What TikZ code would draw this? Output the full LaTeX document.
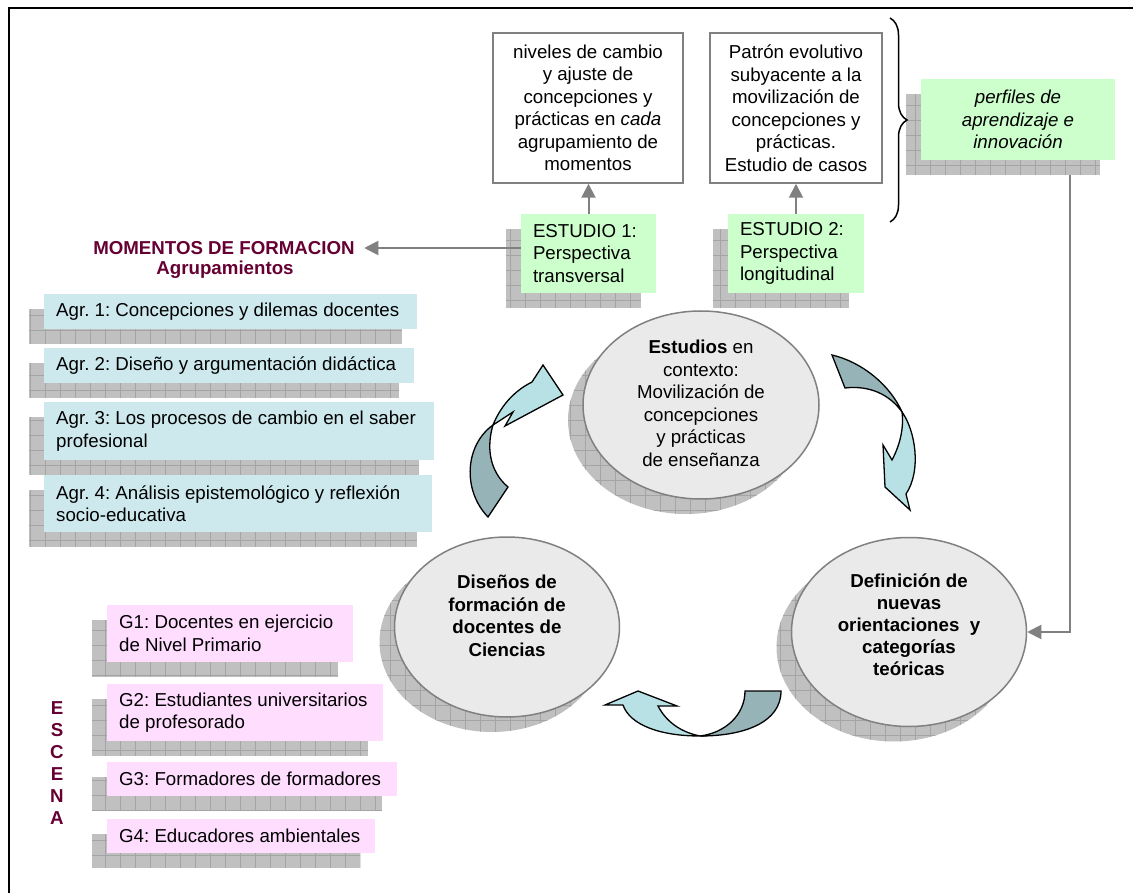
\documentclass[tikz,border=0pt]{standalone}
\usepackage{fontspec}
\setmainfont{Liberation Sans}
\usetikzlibrary{arrows.meta, calc, backgrounds, shapes.geometric, decorations.pathreplacing}

\definecolor{boxgray}{HTML}{808080}
\definecolor{shadegray}{HTML}{C0C0C0}
\definecolor{gridgray}{HTML}{A4A4A4}
\definecolor{mintgreen}{HTML}{CCFFCC}
\definecolor{paleblue}{HTML}{CDE9EE}
\definecolor{palepink}{HTML}{FFDDFF}
\definecolor{maroon}{HTML}{660033}
\definecolor{ovalfill}{HTML}{EAEAEA}
\definecolor{tealdark}{HTML}{96B4B7}
\definecolor{teallight}{HTML}{B8E1E5}

\begin{document}
\frenchspacing
\begin{tikzpicture}[
    x=1pt, y=-1pt,
    font=\fontsize{18.7}{22.5}\selectfont,
    grayline/.style={draw=boxgray, line width=2pt, -{Triangle[length=14pt, width=14pt]}},
    textbox/.style={draw=boxgray, line width=1.5pt, align=center, minimum height=150pt},
    study/.style={fill=mintgreen, align=flush left, inner xsep=12pt, minimum height=79pt},
    agr/.style={anchor=west, fill=paleblue, align=flush left, inner xsep=12pt},
    grp/.style={anchor=west, fill=palepink, align=flush left, inner xsep=12pt},
    ovalnode/.style={ellipse, fill=ovalfill, draw=boxgray, line width=1.5pt, align=center, inner sep=0pt},
    headline/.style={font=\fontsize{18.7}{22}\selectfont\bfseries, text=maroon, align=center},
    gridline/.style={draw=gridgray, line width=0.6pt, xstep=15pt, ystep=15pt},
    turnarrow/.style={draw=black, line width=1.3pt}
]

% --- Rahmen ---
\useasboundingbox (0,0) rectangle (1133,893);
\draw[line width=2pt] (9,900) -- (9,8) -- (1140,8);

% --- Schatten mit Raster ---
\def\sh{15}   % Versatz des Schattens
\def\gridbox#1{%
  \begin{scope}[on background layer]
    \begin{scope}
      \coordinate (sa) at ($(#1.south west)+(-\sh,\sh)$);
      \coordinate (sb) at ($(#1.north east)+(-\sh,\sh)$);
      \fill[shadegray] (sa) rectangle (sb);
      \clip (sa) rectangle (sb);
      \draw[gridline] (sa) grid (sb);
    \end{scope}
  \end{scope}}
\def\gridoval#1#2#3{%
  \begin{scope}[on background layer]
    \begin{scope}
      \coordinate (sc) at ($(#1.center)+(-\sh,\sh)$);
      \fill[shadegray] (sc) ellipse [x radius=#2pt, y radius=#3pt];
      \clip (sc) ellipse [x radius=#2pt, y radius=#3pt];
      \draw[gridline] ($(sc)+(-130,-110)$) grid ($(sc)+(130,110)$);
    \end{scope}
  \end{scope}}

% --- Obere Kaesten ---
\node[textbox, minimum width=190pt] (b1) at (588,108)
    {niveles de cambio\\ y ajuste de\\ concepciones y\\ prácticas en \textit{cada}\\ agrupamiento de\\ momentos};
\node[textbox, minimum width=172pt] (b2) at (796,108)
    {Patrón evolutivo\\ subyacente a la\\ movilización de\\ concepciones y\\ prácticas.\\ Estudio de casos};

% --- Studien ---
\node[study, text width=111pt] (e1) at (588.5,253.5) {ESTUDIO 1:\\ Perspectiva\\ transversal};
\node[study, text width=112pt] (e2) at (796,253.5) {ESTUDIO 2:\\ Perspectiva\\ longitudinal};
\gridbox{e1}
\gridbox{e2}

\draw[grayline] (e1.north) -- (e1.north |- b1.south);
\draw[grayline] (e2.north) -- (e2.north |- b2.south);

% --- Profile ---
\node[fill=mintgreen, align=center, minimum width=194pt, minimum height=81pt, font=\fontsize{18.7}{22.5}\selectfont\itshape]
    (per) at (1018,119.5) {perfiles de\\ aprendizaje e\\ innovación};
\gridbox{per}
\draw[line width=1.5pt, decorate, decoration={brace, amplitude=17pt}] (890,18) -- (890,222);

% --- Momentos de formacion ---
\node[headline] (mom) at (224,248) {MOMENTOS DE FORMACION};
\node[headline] (agp) at (225,270) {Agrupamientos};
\draw[grayline, shorten >=6pt] (e1.west |- mom.east) -- (mom.east);

\node[agr, text width=349pt, minimum height=35pt] (a1) at (44,311.5) {Agr. 1: Concepciones y dilemas docentes};
\node[agr, text width=346pt, minimum height=35pt] (a2) at (44,365.5) {Agr. 2: Diseño y argumentación didáctica};
\node[agr, text width=366pt, minimum height=58pt] (a3) at (44,431) {Agr. 3: Los procesos de cambio en el saber\\ profesional};
\node[agr, text width=364pt, minimum height=57pt] (a4) at (44,503.5) {Agr. 4: Análisis epistemológico y reflexión\\ socio-educativa};
\foreach \n in {a1,a2,a3,a4} {\gridbox{\n}}

% --- Escena ---
\node[headline, font=\fontsize{18.7}{22}\selectfont\bfseries] (esc) at (57,763) {E\\ S\\ C\\ E\\ N\\ A};

\node[grp, text width=222pt, minimum height=57pt] (g1) at (107,633.5) {G1: Docentes en ejercicio\\ de Nivel Primario};
\node[grp, text width=252pt, minimum height=57pt] (g2) at (107,712.5) {G2: Estudiantes universitarios\\ de profesorado};
\node[grp, text width=266pt, minimum height=34pt] (g3) at (107,779) {G3: Formadores de formadores};
\node[grp, text width=244pt, minimum height=34pt] (g4) at (107,836) {G4: Educadores ambientales};
\foreach \n in {g1,g2,g3,g4} {\gridbox{\n}}

% --- Zyklus ---
\node[ovalnode, minimum width=236pt, minimum height=188pt] (est) at (701,405)
    {\mbox{}\\[-12pt] \textbf{Estudios} en\\ contexto:\\ Movilización de\\ concepciones\\ y prácticas\\ de enseñanza};
\node[ovalnode, minimum width=225pt, minimum height=180pt, font=\fontsize{18.7}{22.5}\selectfont\bfseries] (dis) at (507,627)
    {Diseños de\\ formación de\\ docentes de\\ Ciencias\\[0pt] \mbox{}};
\node[ovalnode, minimum width=235pt, minimum height=189pt, font=\fontsize{18.7}{22}\selectfont\bfseries] (def) at (909,632)
    {Definición de\\ nuevas\\ orientaciones~ y\\ categorías\\ teóricas\\[-8pt] \mbox{}};
\gridoval{est}{118}{94}
\gridoval{dis}{112.5}{90}
\gridoval{def}{117.5}{94.5}

\draw[grayline] ($(per.south)+(52,\sh)$) |- (def.east);

% --- Gebogene Pfeile ---
% dis -> est
\filldraw[turnarrow, fill=tealdark] (488,517) .. controls (462,490) and (465,445) .. (493,425)
    .. controls (487,445) and (488,470) .. (508,487) -- cycle;
\filldraw[turnarrow, fill=teallight] (493,425) .. controls (500,408) and (512,392) .. (532,382)
    -- (543,365) -- (563,395) -- (505,426) -- (513,412) -- cycle;
% est -> def
\filldraw[turnarrow, fill=tealdark] (832,355) .. controls (862,362) and (890,385) .. (902,412)
    .. controls (890,395) and (870,385) .. (845,388) -- cycle;
\filldraw[turnarrow, fill=teallight] (902,412) .. controls (915,430) and (922,470) .. (906,494)
    -- (910,510) -- (885,487) -- (883,445) -- (892,460) .. controls (900,445) and (904,428) .. (902,412) -- cycle;
% def -> dis
\filldraw[turnarrow, fill=tealdark] (781,691) .. controls (781,722) and (745,736) .. (700,736)
    .. controls (725,733) and (745,715) .. (745,691) -- cycle;
\filldraw[turnarrow, fill=teallight] (700,736) .. controls (660,736) and (630,725) .. (623,705)
    -- (605,705) -- (638,691) -- (677,706) -- (658,706) .. controls (668,725) and (685,733) .. (700,736) -- cycle;

\end{tikzpicture}
\end{document}
